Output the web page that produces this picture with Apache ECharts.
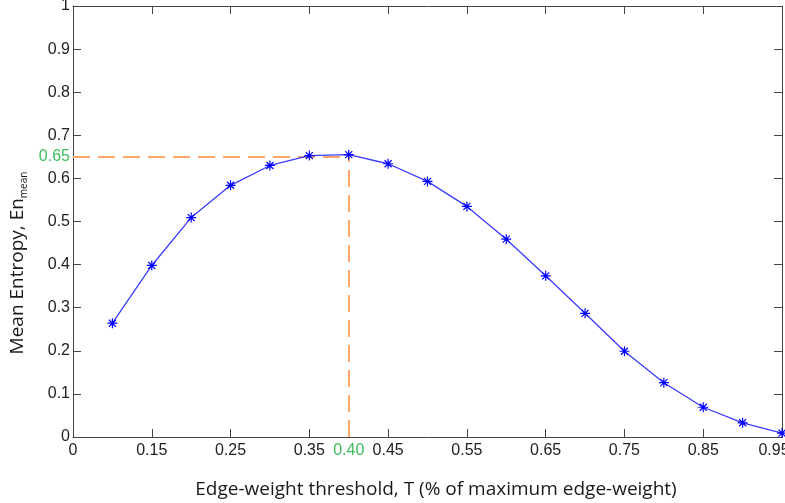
<!DOCTYPE html>
<html>
<head>
<meta charset="utf-8">
<script src="https://cdn.jsdelivr.net/npm/echarts@6/dist/echarts.min.js"></script>
<style>
  html, body { margin: 0; padding: 0; background: #fff; }
  #chart { width: 785px; height: 503px; }
</style>
</head>
<body>
<div id="chart"></div>
<script>
// Edge-weight threshold values and the mean entropy measured at each
const thresholds = [0.10, 0.15, 0.20, 0.25, 0.30, 0.35, 0.40, 0.45, 0.50,
                    0.55, 0.60, 0.65, 0.70, 0.75, 0.80, 0.85, 0.90, 0.95];
const meanEntropy = [0.264, 0.398, 0.509, 0.584, 0.630, 0.653, 0.655, 0.634, 0.593,
                     0.535, 0.459, 0.374, 0.287, 0.199, 0.126, 0.069, 0.033, 0.009];

// Axis ranges and tick labels
const xRange = [0.05, 0.95];
const yRange = [0, 1];
const xTicks = [0.05, 0.15, 0.25, 0.35, 0.45, 0.55, 0.65, 0.75, 0.85, 0.95];
const xTickLabels = ['0', '0.15', '0.25', '0.35', '0.45', '0.55', '0.65', '0.75', '0.85', '0.95'];
const yTicks = [0, 0.1, 0.2, 0.3, 0.4, 0.5, 0.6, 0.7, 0.8, 0.9, 1];
const yTickLabels = ['0', '0.1', '0.2', '0.3', '0.4', '0.5', '0.6', '0.7', '0.8', '0.9', '1'];

// Optimum threshold and its entropy, highlighted with guide lines
const peakT = 0.40;
const peakLabelT = '0.40';
const peakEn = 0.65;
const peakLabelEn = '0.65';

const axisColor = '#444';
const textColor = '#222';
const green = '#3dbb5e';
const orange = '#ffa668';

function near(a, b) { return Math.abs(a - b) < 1e-6; }

function xLabel(v) {
  if (near(v, peakT)) return '{g|' + peakLabelT + '}';
  const i = xTicks.findIndex(t => near(t, v));
  if (i === xTicks.length - 1) return '{e|' + xTickLabels[i] + '}';  // nudge the edge label inward
  return i >= 0 ? xTickLabels[i] : '';
}
function yLabel(v) {
  if (near(v, peakEn)) return '{g|' + peakLabelEn + '}';
  const i = yTicks.findIndex(t => near(t, v));
  return i >= 0 ? yTickLabels[i] : '';
}

const labelFont = { fontFamily: 'Liberation Sans', fontSize: 16, color: textColor };
const labelRich = {
  g: { fontFamily: 'Liberation Sans', fontSize: 16, color: green },
  e: { fontFamily: 'Liberation Sans', fontSize: 16, color: textColor, padding: [0, 16, 0, 0] }
};
const tickStyle = { show: true, inside: true, length: 8, lineStyle: { color: axisColor, width: 1 } };
const lineStyle = { show: true, onZero: false, lineStyle: { color: axisColor, width: 1 } };

const chart = echarts.init(document.getElementById('chart'), null, { renderer: 'canvas' });

chart.setOption({
  animation: false,
  backgroundColor: '#fff',
  grid: { left: 73, top: 6, right: 3, bottom: 66, containLabel: false, outerBoundsMode: 'none' },
  xAxis: [
    {
      type: 'value', position: 'bottom', min: xRange[0], max: xRange[1],
      axisLine: lineStyle,
      axisTick: Object.assign({ customValues: xTicks }, tickStyle),
      axisLabel: Object.assign({ customValues: xTicks.concat([peakT]), margin: 6,
                                 formatter: xLabel, rich: labelRich }, labelFont),
      splitLine: { show: false }
    },
    {
      type: 'value', position: 'top', min: xRange[0], max: xRange[1],
      axisLine: lineStyle,
      axisTick: Object.assign({ customValues: xTicks }, tickStyle),
      axisLabel: { show: false },
      splitLine: { show: false }
    }
  ],
  yAxis: [
    {
      type: 'value', position: 'left', min: yRange[0], max: yRange[1],
      axisLine: lineStyle,
      axisTick: Object.assign({ customValues: yTicks }, tickStyle),
      axisLabel: Object.assign({ customValues: yTicks.concat([peakEn]), margin: 3,
                                 formatter: yLabel, rich: labelRich }, labelFont),
      splitLine: { show: false }
    },
    {
      type: 'value', position: 'right', min: yRange[0], max: yRange[1],
      axisLine: lineStyle,
      axisTick: Object.assign({ customValues: yTicks }, tickStyle),
      axisLabel: { show: false },
      splitLine: { show: false }
    }
  ],
  graphic: [
    {
      type: 'text', x: 436, y: 490,
      style: {
        text: 'Edge-weight threshold, T (% of maximum edge-weight)',
        fontFamily: 'Open Sans', fontSize: 19, fill: '#1a1a1a',
        align: 'center', verticalAlign: 'middle'
      }
    },
    {
      type: 'text', x: 18, y: 263, rotation: Math.PI / 2,
      style: {
        text: '{m|Mean Entropy, En}{s|mean}',
        align: 'center', verticalAlign: 'middle',
        rich: {
          m: { fontFamily: 'Open Sans', fontSize: 19, fill: '#1a1a1a', lineHeight: 22 },
          s: { fontFamily: 'Open Sans', fontSize: 10, fill: '#1a1a1a', verticalAlign: 'bottom', lineHeight: 8 }
        }
      }
    }
  ],
  series: [
    {
      type: 'line',
      xAxisIndex: 0, yAxisIndex: 0,
      data: thresholds.map((t, i) => [t, meanEntropy[i]]),
      symbol: 'path://M5,0L5,10M0,5L10,5M1.5,1.5L8.5,8.5M8.5,1.5L1.5,8.5',
      symbolSize: 10,
      showAllSymbol: true,
      lineStyle: { color: '#3b3bff', width: 1.3 },
      itemStyle: { color: '#0000ff', borderColor: '#0000ff', borderWidth: 1.2 },
      z: 3,
      markLine: {
        silent: true,
        symbol: 'none',
        label: { show: false },
        lineStyle: { color: orange, width: 2, type: [17, 8] },
        data: [
          [{ coord: [xRange[0], peakEn] }, { coord: [peakT, peakEn] }],
          [{ coord: [peakT, yRange[0]] }, { coord: [peakT, peakEn] }]
        ],
        z: 2
      }
    }
  ]
});
</script>
</body>
</html>
